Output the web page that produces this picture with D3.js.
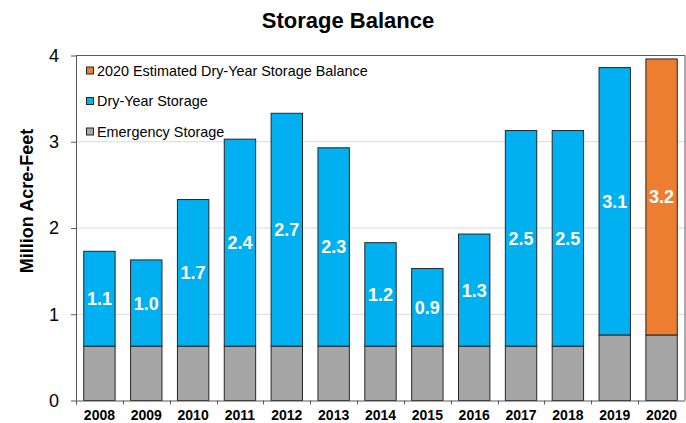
<!DOCTYPE html>
<html>
<head>
<meta charset="utf-8">
<script src="https://cdn.jsdelivr.net/npm/d3@7"></script>
<style>
  body { margin: 0; background: #fff; }
  text { font-family: Arial, "Liberation Sans", sans-serif; }
</style>
</head>
<body>
<div id="chart"></div>
<script>
// Chart data
var years = ["2008", "2009", "2010", "2011", "2012", "2013", "2014", "2015", "2016", "2017", "2018", "2019", "2020"];
var emergency = [0.63, 0.63, 0.63, 0.63, 0.63, 0.63, 0.63, 0.63, 0.63, 0.63, 0.63, 0.76, 0.76];
var dryYear = [1.1, 1.0, 1.7, 2.4, 2.7, 2.3, 1.2, 0.9, 1.3, 2.5, 2.5, 3.1, 0];
var estimated = [0, 0, 0, 0, 0, 0, 0, 0, 0, 0, 0, 0, 3.2];
var yTicks = [0, 1, 2, 3, 4];

var seriesKeys = ["emergency", "dry", "est"];
var seriesNames = {
  est: "2020 Estimated Dry-Year Storage Balance",
  dry: "Dry-Year Storage",
  emergency: "Emergency Storage"
};
var colors = { emergency: "#a6a6a6", dry: "#00b0f0", est: "#ed7d31" };

var svgWidth = 686;
var svgHeight = 423;
var margin = { top: 55.5, right: 1, bottom: 22.5, left: 76 };
var width = svgWidth - margin.left - margin.right;
var height = svgHeight - margin.top - margin.bottom;

var svg = d3.select("#chart")
  .append("svg")
  .attr("width", svgWidth)
  .attr("height", svgHeight);

var chartGroup = svg.append("g")
  .attr("transform", `translate(${margin.left}, ${margin.top})`);

// build table for the stack
var table = years.map(function(y, i) {
  return { year: y, emergency: emergency[i], dry: dryYear[i], est: estimated[i] };
});
var stacked = d3.stack().keys(seriesKeys)(table);

// Scales
var xScale = d3.scaleBand()
  .domain(years)
  .range([0, width])
  .paddingInner(0.33)
  .paddingOuter(0.165);

var yScale = d3.scaleLinear()
  .domain([0, 4])
  .range([height, 0]);

// Gridlines
chartGroup.append("g")
  .selectAll("line")
  .data(yTicks.slice(1, 4))
  .enter()
  .append("line")
  .attr("x1", 0)
  .attr("x2", width)
  .attr("y1", function(d) { return yScale(d); })
  .attr("y2", function(d) { return yScale(d); })
  .attr("stroke", "#d9d9d9")
  .attr("stroke-width", 1);

// Frame top and right
chartGroup.append("path")
  .attr("d", `M0,${yScale(4)}H${width}V${height}`)
  .attr("fill", "none")
  .attr("stroke", "#595959")
  .attr("stroke-width", 1);

// Bars
chartGroup.selectAll(".series")
  .data(stacked)
  .enter()
  .append("g")
  .attr("class", "series")
  .attr("fill", function(d) { return colors[d.key]; })
  .selectAll("rect")
  .data(function(d) { return d.filter(function(p) { return p[1] - p[0] > 0; }); })
  .enter()
  .append("rect")
  .attr("x", function(d) { return xScale(d.data.year); })
  .attr("y", function(d) { return yScale(d[1]); })
  .attr("width", xScale.bandwidth())
  .attr("height", function(d) { return yScale(d[0]) - yScale(d[1]); })
  .attr("stroke", "#262626")
  .attr("stroke-width", 1);

// Value labels on dry-year and estimated segments
stacked.filter(function(s) { return s.key !== "emergency"; }).forEach(function(s) {
  chartGroup.append("g")
    .selectAll("text")
    .data(s.filter(function(p) { return p[1] - p[0] > 0; }))
    .enter()
    .append("text")
    .attr("x", function(d) { return xScale(d.data.year) + xScale.bandwidth() / 2; })
    .attr("y", function(d) { return yScale((d[0] + d[1]) / 2); })
    .attr("dy", "0.36em")
    .attr("text-anchor", "middle")
    .attr("fill", "#fff")
    .attr("font-size", "18px")
    .attr("font-weight", "bold")
    .text(function(d) { return d3.format(".1f")(d[1] - d[0]); });
});

// Axes
var leftAxis = d3.axisLeft(yScale)
  .tickValues(yTicks)
  .tickFormat(d3.format("d"))
  .tickSize(5)
  .tickPadding(12)
  .tickSizeOuter(0);

var yAxisG = chartGroup.append("g").call(leftAxis);
yAxisG.select(".domain").attr("stroke", "#595959").attr("d", `M0.5,0V${height + 4}`);
yAxisG.selectAll(".tick line").attr("stroke", "#595959");
yAxisG.selectAll(".tick text")
  .attr("font-size", "18px")
  .attr("fill", "#000")
  .style("font-family", "Arial, 'Liberation Sans', sans-serif");

var bottomAxis = d3.axisBottom(xScale).tickSize(0).tickPadding(9.5);
var xAxisG = chartGroup.append("g")
  .attr("transform", `translate(0, ${height})`)
  .call(bottomAxis);
xAxisG.select(".domain").attr("stroke", "#595959").attr("d", `M0,0.5H${width}`);
xAxisG.selectAll(".tick text")
  .attr("font-size", "14px")
  .attr("font-weight", "bold")
  .attr("fill", "#000")
  .style("font-family", "Arial, 'Liberation Sans', sans-serif");

// x tick marks between categories
chartGroup.append("g")
  .selectAll("line")
  .data(years)
  .enter()
  .append("line")
  .attr("x1", function(d) { return Math.round(xScale(d) - xScale.step() * xScale.paddingOuter()) + 0.5; })
  .attr("x2", function(d) { return Math.round(xScale(d) - xScale.step() * xScale.paddingOuter()) + 0.5; })
  .attr("y1", height)
  .attr("y2", height + 4)
  .attr("stroke", "#595959");

// Legend
var legendKeys = ["est", "dry", "emergency"];
var legend = chartGroup.append("g")
  .attr("transform", "translate(11, 15)");
var legendItem = legend.selectAll("g")
  .data(legendKeys)
  .enter()
  .append("g")
  .attr("transform", function(d, i) { return `translate(0, ${i * 30.5})`; });
legendItem.append("rect")
  .attr("x", -0.5)
  .attr("y", -3.5)
  .attr("width", 7)
  .attr("height", 7)
  .attr("fill", function(d) { return colors[d]; })
  .attr("stroke", "#262626")
  .attr("stroke-width", 1);
legendItem.append("text")
  .attr("x", 10)
  .attr("y", 0)
  .attr("dy", "0.36em")
  .attr("font-size", "14.4px")
  .attr("fill", "#000")
  .text(function(d) { return seriesNames[d]; });

// Title
svg.append("text")
  .attr("x", 348)
  .attr("y", 28)
  .attr("text-anchor", "middle")
  .attr("font-size", "22px")
  .attr("font-weight", "bold")
  .text("Storage Balance");

// Y axis title
svg.append("text")
  .attr("transform", "translate(33, 201) rotate(-90)")
  .attr("text-anchor", "middle")
  .attr("font-size", "18px")
  .attr("font-weight", "bold")
  .text("Million Acre-Feet");
</script>
</body>
</html>
